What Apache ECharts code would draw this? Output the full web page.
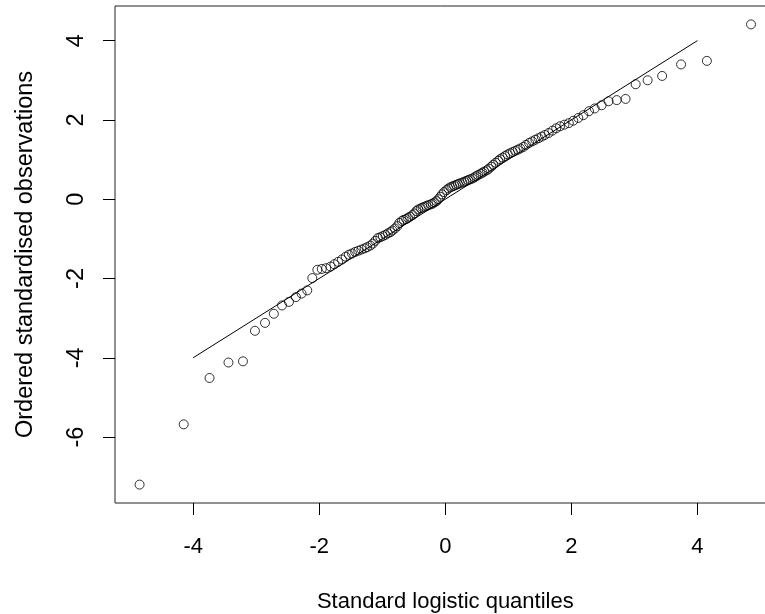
<!DOCTYPE html>
<html>
<head>
<meta charset="utf-8">
<script src="https://cdn.jsdelivr.net/npm/echarts@6/dist/echarts.min.js"></script>
<style>
html,body{margin:0;padding:0;background:#fff;}
#chart{width:765px;height:614px;}
</style>
</head>
<body>
<div id="chart"></div>
<script>
// Theoretical standard logistic quantiles (x)
var quantilesX = [
-4.85,-4.15,-3.74,-3.44,-3.21,-3.02,-2.86,-2.72,-2.59,-2.48,
-2.37,-2.28,-2.19,-2.11,-2.03,-1.96,-1.89,-1.82,-1.76,-1.70,
-1.64,-1.58,-1.53,-1.48,-1.43,-1.38,-1.33,-1.28,-1.24,-1.19,
-1.15,-1.11,-1.07,-1.03,-0.99,-0.95,-0.91,-0.87,-0.84,-0.80,
-0.76,-0.73,-0.69,-0.66,-0.62,-0.59,-0.56,-0.52,-0.49,-0.46,
-0.43,-0.39,-0.36,-0.33,-0.30,-0.27,-0.23,-0.20,-0.17,-0.14,
-0.11,-0.08,-0.05,-0.02,0.02,0.05,0.08,0.11,0.14,0.17,
0.20,0.23,0.27,0.30,0.33,0.36,0.39,0.43,0.46,0.49,
0.52,0.56,0.59,0.62,0.66,0.69,0.73,0.76,0.80,0.84,
0.87,0.91,0.95,0.99,1.03,1.07,1.11,1.15,1.19,1.24,
1.28,1.33,1.38,1.43,1.48,1.53,1.58,1.64,1.70,1.76,
1.82,1.89,1.96,2.03,2.11,2.19,2.28,2.37,2.48,2.59,
2.72,2.86,3.02,3.21,3.44,3.74,4.15,4.85
];
// Ordered standardised observations (y)
var observationsY = [
-7.20,-5.68,-4.51,-4.12,-4.09,-3.32,-3.12,-2.89,-2.68,-2.59,
-2.47,-2.38,-2.30,-1.99,-1.78,-1.76,-1.74,-1.70,-1.64,-1.58,
-1.52,-1.45,-1.40,-1.37,-1.33,-1.30,-1.27,-1.24,-1.21,-1.17,
-1.12,-1.05,-0.98,-0.96,-0.93,-0.90,-0.86,-0.83,-0.79,-0.74,
-0.68,-0.60,-0.55,-0.52,-0.50,-0.47,-0.44,-0.40,-0.36,-0.30,
-0.26,-0.23,-0.21,-0.19,-0.17,-0.15,-0.13,-0.11,-0.08,-0.05,
0.00,0.06,0.12,0.18,0.23,0.27,0.30,0.32,0.34,0.36,
0.38,0.40,0.42,0.44,0.46,0.48,0.50,0.52,0.55,0.58,
0.61,0.64,0.67,0.70,0.73,0.77,0.82,0.87,0.92,0.97,
1.01,1.05,1.09,1.13,1.16,1.19,1.22,1.25,1.28,1.32,
1.37,1.42,1.46,1.50,1.54,1.58,1.62,1.67,1.73,1.79,
1.84,1.88,1.92,1.98,2.05,2.12,2.22,2.29,2.37,2.47,
2.50,2.53,2.90,3.00,3.11,3.40,3.49,4.41
];
// Reference line end points
var lineX = [-4, 4];
var lineY = [-4, 4];
// Tick labels
var xTicks = [-4, -2, 0, 2, 4];
var yTicks = [-6, -4, -2, 0, 2, 4];

var pts = quantilesX.map(function (x, i) { return [x, observationsY[i]]; });
var linePts = lineX.map(function (x, i) { return [x, lineY[i]]; });

var font = "'Liberation Sans', Arial, sans-serif";
var chart = echarts.init(document.getElementById('chart'), null, {renderer: 'canvas'});
chart.setOption({
  animation: false,
  backgroundColor: '#fff',
  grid: {
    left: 115, top: 6, width: 660.6, height: 497,
    containLabel: false, outerBoundsMode: 'none',
    show: true, borderColor: '#222', borderWidth: 1, backgroundColor: 'transparent'
  },
  xAxis: {
    type: 'value', min: -5.24, max: 5.24,
    axisLine: {show: false, onZero: false},
    splitLine: {show: false},
    axisTick: {show: true, length: 12, customValues: xTicks, lineStyle: {color: '#000', width: 1}},
    axisLabel: {show: true, customValues: xTicks, margin: 33, color: '#000', fontSize: 22, fontFamily: font},
    name: 'Standard logistic quantiles', nameLocation: 'middle', nameGap: 88,
    nameTextStyle: {color: '#000', fontSize: 22, fontFamily: font}
  },
  yAxis: {
    type: 'value', min: -7.664, max: 4.874,
    axisLine: {show: false, onZero: false},
    splitLine: {show: false},
    axisTick: {show: true, length: 12, customValues: yTicks, lineStyle: {color: '#000', width: 1}},
    axisLabel: {show: true, customValues: yTicks, margin: 26, rotate: 90, color: '#000', fontSize: 23.5, fontFamily: font},
    name: 'Ordered standardised observations', nameLocation: 'middle', nameGap: 77, nameRotate: 90,
    nameTextStyle: {color: '#000', fontSize: 23.5, fontFamily: font}
  },
  series: [
    {
      type: 'line', data: linePts, symbol: 'none', silent: true,
      lineStyle: {color: '#000', width: 1}
    },
    {
      type: 'scatter', data: pts, symbol: 'circle', symbolSize: 9,
      itemStyle: {color: 'rgba(0,0,0,0)', borderColor: '#000', borderWidth: 1}
    }
  ]
});
</script>
</body>
</html>
